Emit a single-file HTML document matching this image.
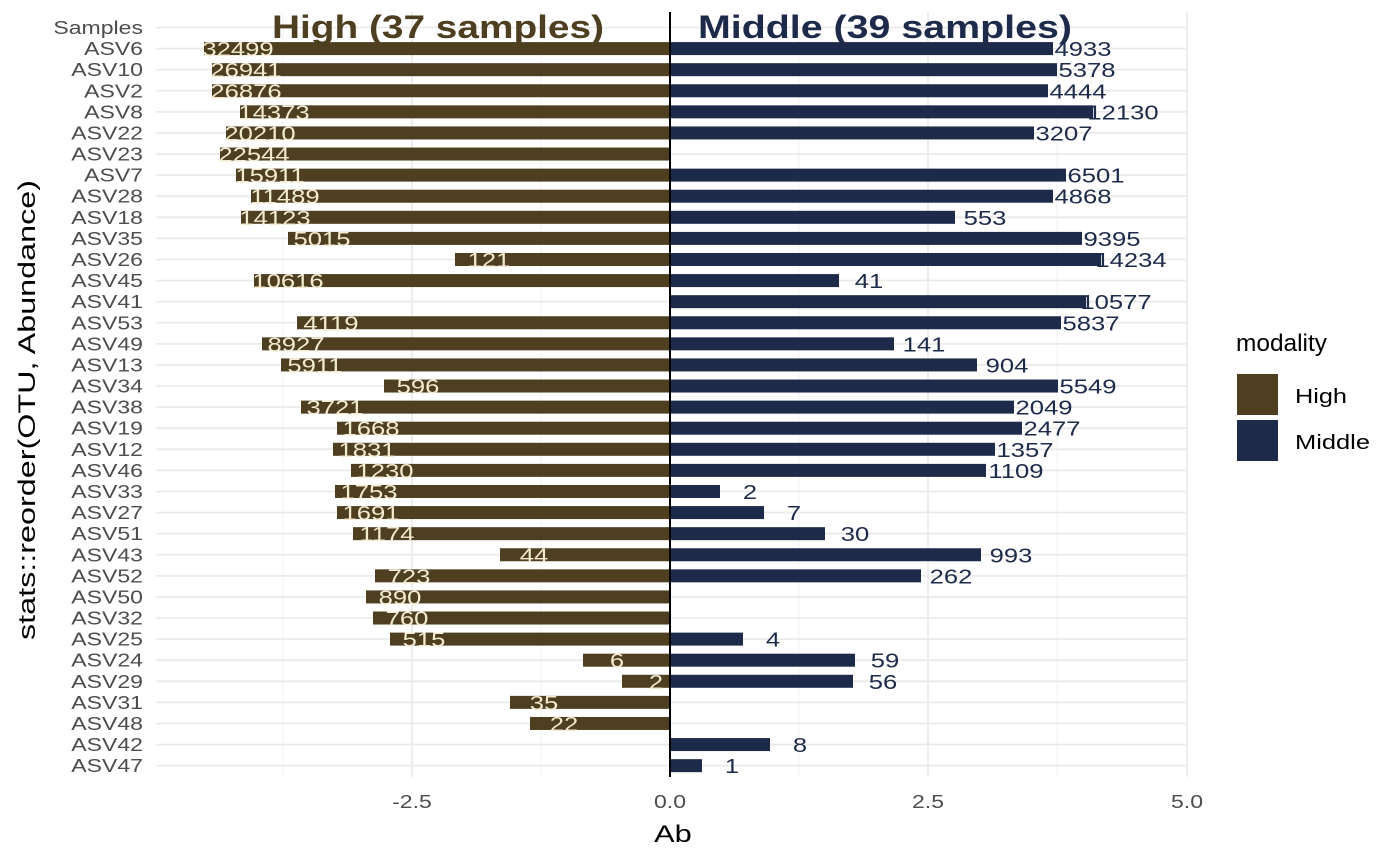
<!DOCTYPE html>
<html><head><meta charset="utf-8"><style>body{margin:0;background:#fff}svg{display:block}</style></head>
<body>
<svg id="s" width="1400" height="866" xmlns="http://www.w3.org/2000/svg" font-family="Liberation Sans, DejaVu Sans, sans-serif"></svg>
<script>
const rows=[["Samples",null,null,null,null],
["ASV6",204,1053,"32499","4933"],["ASV10",212,1057,"26941","5378"],["ASV2",212,1048,"26876","4444"],
["ASV8",240,1093,"14373","12130"],["ASV22",226,1034,"20210","3207"],["ASV23",220,null,"22544",null],
["ASV7",236,1066,"15911","6501"],["ASV28",251,1053,"11489","4868"],["ASV18",241,955,"14123","553"],
["ASV35",288,1082,"5015","9395"],["ASV26",455,1101,"121","14234"],["ASV45",254,839,"10616","41"],
["ASV41",null,1086,null,"10577"],["ASV53",297,1061,"4119","5837"],["ASV49",262,894,"8927","141"],
["ASV13",281,977,"5911","904"],["ASV34",384,1058,"596","5549"],["ASV38",301,1014,"3721","2049"],
["ASV19",337,1022,"1668","2477"],["ASV12",333,995,"1831","1357"],["ASV46",351,986,"1230","1109"],
["ASV33",335,720,"1753","2"],["ASV27",337,764,"1691","7"],["ASV51",353,825,"1174","30"],
["ASV43",500,981,"44","993"],["ASV52",375,921,"723","262"],["ASV50",366,null,"890",null],
["ASV32",373,null,"760",null],["ASV25",390,743,"515","4"],["ASV24",583,855,"6","59"],
["ASV29",622,853,"2","56"],["ASV31",510,null,"35",null],["ASV48",530,null,"22",null],
["ASV42",null,770,null,"8"],["ASV47",null,702,null,"1"]];
let h='';
const y0=27.5,dy=21.09;
for(const x of [283,541,799,1057])h+=`<line x1="${x}" y1="12" x2="${x}" y2="777" stroke="#f0f0f0" stroke-width="1"/>`;
for(const x of [412,928,1187])h+=`<line x1="${x}" y1="12" x2="${x}" y2="777" stroke="#ebebeb" stroke-width="1.8"/>`;
rows.forEach((r,i)=>{const y=y0+i*dy;h+=`<line x1="156" y1="${y}" x2="1187" y2="${y}" stroke="#ebebeb" stroke-width="1.8"/>`;});
rows.forEach((r,i)=>{const y=y0+i*dy;
h+=`<text class="w" x="143" y="${y+6.5}" text-anchor="end" font-size="18" fill="#4d4d4d">${r[0]}</text>`;
if(r[1]!=null){h+=`<rect x="${r[1]}" y="${y-6.5}" width="${670-r[1]}" height="13" fill="#4d3f20"/>`;}
if(r[2]!=null){h+=`<rect x="670" y="${y-6.5}" width="${r[2]-670}" height="13" fill="#1e2a4a"/>`;}
});
rows.forEach((r,i)=>{const y=y0+i*dy;
if(r[3])h+=`<text class="w" x="${r[1]+34}" y="${y+7.5}" text-anchor="middle" font-size="20" fill="#f3ebcf">${r[3]}</text>`;
if(r[4])h+=`<text class="w" x="${r[2]+30}" y="${y+7.5}" text-anchor="middle" font-size="20" fill="#1e2a4a">${r[4]}</text>`;
});
h+=`<line x1="670" y1="12" x2="670" y2="777" stroke="#000" stroke-width="2"/>`;
h+=`<text x="272" y="38" font-size="32" font-weight="bold" fill="#4d3f20" textLength="332" lengthAdjust="spacingAndGlyphs">High (37 samples)</text>`;
h+=`<text x="698" y="38" font-size="32" font-weight="bold" fill="#1e2a4a" textLength="374" lengthAdjust="spacingAndGlyphs">Middle (39 samples)</text>`;
[["-2.5",412],["0.0",670],["2.5",928],["5.0",1187]].forEach(t=>h+=`<text class="w" x="${t[1]}" y="808" text-anchor="middle" font-size="18" fill="#4d4d4d">${t[0]}</text>`);
h+=`<text class="w" x="673" y="842" text-anchor="middle" font-size="24" fill="#000">Ab</text>`;
h+=`<text transform="translate(35,410) rotate(-90)" text-anchor="middle" font-size="24" fill="#000" textLength="460" lengthAdjust="spacingAndGlyphs">stats::reorder(OTU, Abundance)</text>`;
h+=`<text x="1236" y="351" font-size="24" fill="#000" textLength="91" lengthAdjust="spacingAndGlyphs">modality</text>`;
h+=`<rect x="1237" y="374" width="41" height="41" fill="#4d3f20"/><rect x="1237" y="420" width="41" height="41" fill="#1e2a4a"/>`;
h+=`<text x="1295" y="403" font-size="20" fill="#000" textLength="52" lengthAdjust="spacingAndGlyphs">High</text><text x="1295" y="449" font-size="20" fill="#000" textLength="75" lengthAdjust="spacingAndGlyphs">Middle</text>`;
document.getElementById('s').innerHTML=h;
document.querySelectorAll('text.w').forEach(t=>{const l=t.getComputedTextLength();t.setAttribute('textLength',(l*1.28).toFixed(1));t.setAttribute('lengthAdjust','spacingAndGlyphs');});
</script>
</body></html>
